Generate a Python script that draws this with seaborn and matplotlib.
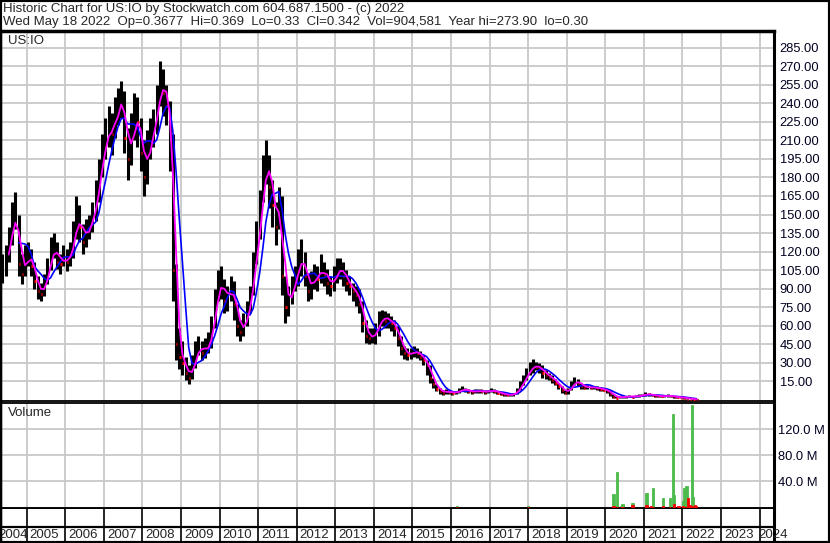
import numpy as np
import pandas as pd
import matplotlib
matplotlib.use("Agg")
import matplotlib.pyplot as plt
import seaborn as sns
from matplotlib.patches import Rectangle

# ---------------- data (monthly, May 2004 .. May 2022) ----------------
first_month = "2004-05-01"
close = [
    105, 118, 130, 148, 152, 110, 102, 115,                                  # 2004 May-Dec
    118, 108, 96, 88, 86, 95, 108, 120, 125, 112, 110, 116,                   # 2005
    112, 118, 135, 152, 140, 128, 138, 142, 150, 165, 185, 205,               # 2006
    212, 222, 215, 232, 240, 245, 212, 195, 215, 232, 225, 200,               # 2007
    180, 205, 215, 220, 242, 262, 248, 238, 210, 105, 45, 35,                 # 2008
    30, 22, 18, 28, 40, 45, 38, 42, 45, 58, 82, 95,                           # 2009
    95, 80, 85, 92, 78, 60, 55, 62, 72, 85, 110, 135,                         # 2010
    150, 185, 198, 172, 158, 140, 158, 100, 75, 82, 92, 100,                  # 2011
    112, 118, 100, 88, 95, 102, 98, 108, 102, 95, 92, 100,                    # 2012
    105, 108, 100, 95, 92, 88, 85, 78, 62, 52, 50, 52,                        # 2013
    55, 65, 68, 64, 66, 62, 58, 50, 42, 38, 36, 38,                           # 2014
    40, 38, 35, 32, 28, 18, 13, 9, 7, 6, 7, 6.5,                              # 2015
    5.5, 6, 8, 9, 8, 7, 6.5, 7, 7.5, 7, 6.5, 7,                               # 2016
    8, 7, 6, 5, 4.5, 4, 4, 5, 8, 12, 17, 22,                                  # 2017
    26, 28, 27, 26, 22, 20, 19, 16, 14, 11, 8, 6,                             # 2018
    8, 13, 16, 14, 11, 10, 10.5, 10, 10, 9.5, 9, 8,                           # 2019
    7.5, 5, 2.5, 2, 2.2, 2.5, 2.8, 3, 2.8, 3, 3.5, 4,                         # 2020
    5, 4.5, 3.8, 3.5, 3.2, 3, 3.2, 3.5, 3, 2.6, 2.2, 2,                       # 2021
    1.5, 1.1, 0.8, 0.55, 0.342,                                               # 2022 Jan-May
]
high = [
    118, 125, 140, 160, 168, 150, 118, 125,
    128, 122, 112, 100, 95, 102, 115, 132, 135, 128, 118, 125,
    122, 128, 145, 165, 158, 142, 146, 150, 160, 178, 195, 215,
    228, 238, 232, 245, 252, 258, 250, 220, 232, 248, 245, 228,
    210, 218, 228, 235, 255, 274, 268, 255, 242, 215, 110, 58,
    48, 35, 28, 36, 48, 52, 48, 50, 55, 68, 90, 105,
    108, 98, 92, 100, 96, 78, 65, 70, 80, 92, 120, 145,
    170, 198, 210, 198, 178, 160, 172, 165, 100, 92, 100, 108,
    122, 130, 120, 102, 104, 110, 108, 118, 112, 106, 100, 108,
    115, 115, 112, 105, 100, 95, 92, 90, 80, 65, 58, 58,
    62, 72, 73, 72, 70, 68, 65, 60, 52, 44, 42, 42,
    44, 42, 40, 36, 32, 28, 18, 13, 10, 8, 9, 8,
    7, 7.5, 10, 11, 10, 8.5, 8, 8.5, 9, 8.5, 8, 8,
    10, 9, 7.5, 6.5, 5.5, 5, 5, 6, 10, 15, 20, 26,
    31, 33, 31, 30, 28, 24, 22, 20, 17, 14, 11, 8,
    10, 15, 18.5, 17, 14, 12, 12, 11.5, 11.5, 11, 10.5, 10,
    9, 8, 5, 3, 3, 3.5, 3.5, 4, 3.5, 3.8, 4.5, 5,
    6.5, 6, 4.8, 4.2, 3.8, 3.6, 3.8, 4.5, 4, 3.2, 2.8, 2.5,
    2.2, 1.6, 1.2, 0.85, 0.6,
]
low = [
    95, 100, 112, 125, 138, 100, 94, 100,
    108, 100, 90, 82, 80, 84, 94, 105, 115, 106, 102, 108,
    104, 108, 115, 130, 128, 118, 124, 130, 136, 145, 160, 180,
    195, 205, 198, 212, 222, 228, 200, 178, 190, 210, 205, 185,
    165, 175, 195, 205, 215, 238, 230, 222, 185, 80, 32, 25,
    20, 16, 13, 17, 26, 36, 32, 34, 38, 42, 58, 80,
    82, 70, 72, 80, 65, 52, 48, 52, 60, 70, 85, 110,
    130, 160, 175, 155, 140, 125, 138, 85, 62, 68, 78, 88,
    92, 100, 92, 80, 82, 90, 88, 95, 92, 86, 84, 88,
    95, 98, 92, 88, 85, 80, 76, 70, 55, 46, 45, 46,
    45, 52, 60, 58, 58, 56, 52, 44, 36, 33, 32, 33,
    35, 34, 32, 28, 20, 14, 10, 7, 5, 4, 5, 5,
    4, 4.5, 6, 7, 6.5, 5.5, 5, 5.5, 6, 5.5, 5, 5.5,
    6.5, 5.5, 5, 4, 3.5, 3.5, 3.5, 3.5, 5, 8, 12, 16,
    20, 22, 24, 22, 18, 17, 16, 14, 12, 9, 6, 4.5,
    5, 8, 12, 11, 9, 8.5, 9, 8.5, 8.5, 8, 7.5, 7,
    6, 3.5, 1.5, 1.5, 1.6, 1.8, 2, 2.2, 2.2, 2.4, 2.8, 3,
    3.5, 3.5, 3, 2.8, 2.6, 2.5, 2.6, 2.8, 2.4, 2, 1.8, 1.5,
    1.1, 0.8, 0.6, 0.4, 0.30,
]

# weekly volume bars (decimal year, up-volume M, down-volume M)
vol_time = [2016.15, 2018.00, 2020.21, 2020.30, 2020.40, 2020.45, 2020.71, 2021.07,
            2021.18, 2021.23, 2021.49, 2021.68, 2021.75, 2021.79, 2021.90, 2022.02,
            2022.05, 2022.11, 2022.14, 2022.19, 2022.25, 2022.28, 2022.32, 2022.35]
vol_up = [1.2, 1.0, 20, 54, 1.5, 4.6, 5.6, 21.5,
          0, 29, 14, 14, 143, 18.5, 0, 9,
          29, 32, 0, 0, 157, 15, 0, 0]
vol_down = [0, 0, 2, 0, 0, 0, 2.5, 3,
            1.2, 0, 1.5, 0, 0, 5, 1.5, 1.5,
            0, 0, 14, 3, 2, 0, 3, 2]

price_ticks = list(range(15, 286, 15))
vol_ticks = [40, 80, 120]
years = list(range(2005, 2025))
title1 = "Historic Chart for US:IO by Stockwatch.com 604.687.1500 - (c) 2022"
title2 = ("Wed May 18 2022  Op=0.3677  Hi=0.369  Lo=0.33  Cl=0.342  "
          "Vol=904,581  Year hi=273.90  lo=0.30")

# ---------------- build frames ----------------
dates = pd.date_range(first_month, periods=len(close), freq="MS") + pd.Timedelta(days=14)
tyear = dates.year + (dates.dayofyear - 1) / 365.25
df = pd.DataFrame({"t": tyear, "close": close, "high": high, "low": low})
df["open"] = df["close"].shift(1).fillna(df["close"])
df["ma_fast"] = df["close"].rolling(3).mean()
df["ma_slow"] = df["close"].rolling(6).mean()
vol = pd.DataFrame({"t": vol_time, "up": vol_up, "down": vol_down})

# ---------------- figure ----------------
sns.set_style("white")
plt.rcParams['font.family'] = ['Liberation Sans', 'DejaVu Sans']

W, H = 830, 543
fig = plt.figure(figsize=(W / 100, H / 100), dpi=100)
fig.patch.set_facecolor("white")


def px2t(x):
    return 2005 + (x - 26.7) / 38.57


def axrect(x0, y0, x1, y1):
    return [x0 / W, 1 - y1 / H, (x1 - x0) / W, (y1 - y0) / H]


X0, X1 = px2t(0), px2t(774)
GRID = "#c8c8c8"

axp = fig.add_axes(axrect(0, 31, 774, 401))
axv = fig.add_axes(axrect(0, 403, 774, 509))
axd = fig.add_axes(axrect(0, 509, 774, 543))

# ---- price panel ----
axp.set_xlim(X0, X1)
axp.set_ylim(-0.8, 298.4)
axp.set_axisbelow(True)
axp.set_xticks(years)
axp.set_yticks(price_ticks)
axp.grid(True, color=GRID, lw=1.3)
axp.vlines(df["t"], df["low"], df["high"], color="black", lw=2.2, zorder=2)
down = df[df["close"] < df["open"]]
axp.hlines(down["close"], down["t"], down["t"] + 0.035, color="red", lw=2.2, zorder=3)
sns.lineplot(data=df, x="t", y="ma_slow", color="#0000ff", lw=1.2, ax=axp, zorder=4)
sns.lineplot(data=df, x="t", y="ma_fast", color="#ff00ff", lw=1.3, ax=axp, zorder=5)
axp.set_xlabel("")
axp.set_ylabel("")
axp.yaxis.tick_right()
axp.set_yticklabels([f"{v:.2f}" for v in price_ticks])
axp.tick_params(axis="y", length=0, pad=4, labelsize=9.3, labelcolor="#000020")
axp.tick_params(axis="x", length=0, labelbottom=False)
axp.text(8 / 774, 1 - 10 / 370, "US:IO", transform=axp.transAxes, fontsize=9.5,
         va="center", ha="left")

# ---- volume panel ----
axv.set_xlim(X0, X1)
axv.set_ylim(-3, 160)
axv.set_axisbelow(True)
axv.set_xticks(years)
axv.set_yticks(vol_ticks)
axv.grid(True, color=GRID, lw=1.3)
axv.bar(vol["t"], vol["up"], width=0.06, color="#4cbb4c", edgecolor="#4cbb4c",
        linewidth=0.6, zorder=2)
axv.bar(vol["t"], vol["down"], width=0.06, color="#ff0000", edgecolor="#ff0000",
        linewidth=0.6, zorder=3)
axv.yaxis.tick_right()
axv.set_yticklabels([f"{v:.1f} M" for v in vol_ticks])
axv.tick_params(axis="y", length=0, pad=3, labelsize=9.3, labelcolor="#000020")
axv.tick_params(axis="x", length=0, labelbottom=False)
axv.text(8 / 774, 1 - 10 / 106, "Volume", transform=axv.transAxes, fontsize=9.5,
         va="center", ha="left")

# ---- date strip ----
axd.set_xlim(X0, X1)
axd.set_ylim(543, 509)
axd.set_xticks([])
axd.set_yticks([])
axd.axhline(526.5, color="black", lw=1.6)
axd.vlines(years, 509, 543, color="black", lw=1.2)
tw = 38.57
for y in years[:-1]:
    axd.text(y + 3 / tw, 535, str(y), fontsize=9.5, va="center", ha="left")
axd.text(2005 - 28 / tw, 535, "2004", fontsize=9.5, va="center", ha="left")
axd.text(2024 - 1 / tw, 535, "2024", fontsize=9.5, va="center", ha="left", clip_on=False)

# ---- spines ----
for ax in (axp, axv, axd):
    for s in ax.spines.values():
        s.set_color("black")
axp.spines["left"].set_linewidth(2.5)
axp.spines["top"].set_linewidth(2.5)
axp.spines["right"].set_linewidth(2.2)
axp.spines["bottom"].set_linewidth(1.3)
axv.spines["left"].set_linewidth(2.5)
axv.spines["top"].set_linewidth(1.3)
axv.spines["right"].set_linewidth(2.2)
axv.spines["bottom"].set_linewidth(2.8)
axd.spines["left"].set_linewidth(2.5)
axd.spines["top"].set_visible(False)
axd.spines["right"].set_linewidth(2.2)
axd.spines["bottom"].set_linewidth(2.5)

# ---- titles and frame ----
fig.text(3 / W, 1 - 9 / H, title1, fontsize=9.5, va="center", ha="left")
fig.text(3 / W, 1 - 22 / H, title2, fontsize=9.5, va="center", ha="left")
fig.patches.append(Rectangle((0, 0), 1, 1, transform=fig.transFigure, fill=False,
                             lw=3, ec="black"))

fig.savefig("out.png", dpi=100, facecolor="white")
